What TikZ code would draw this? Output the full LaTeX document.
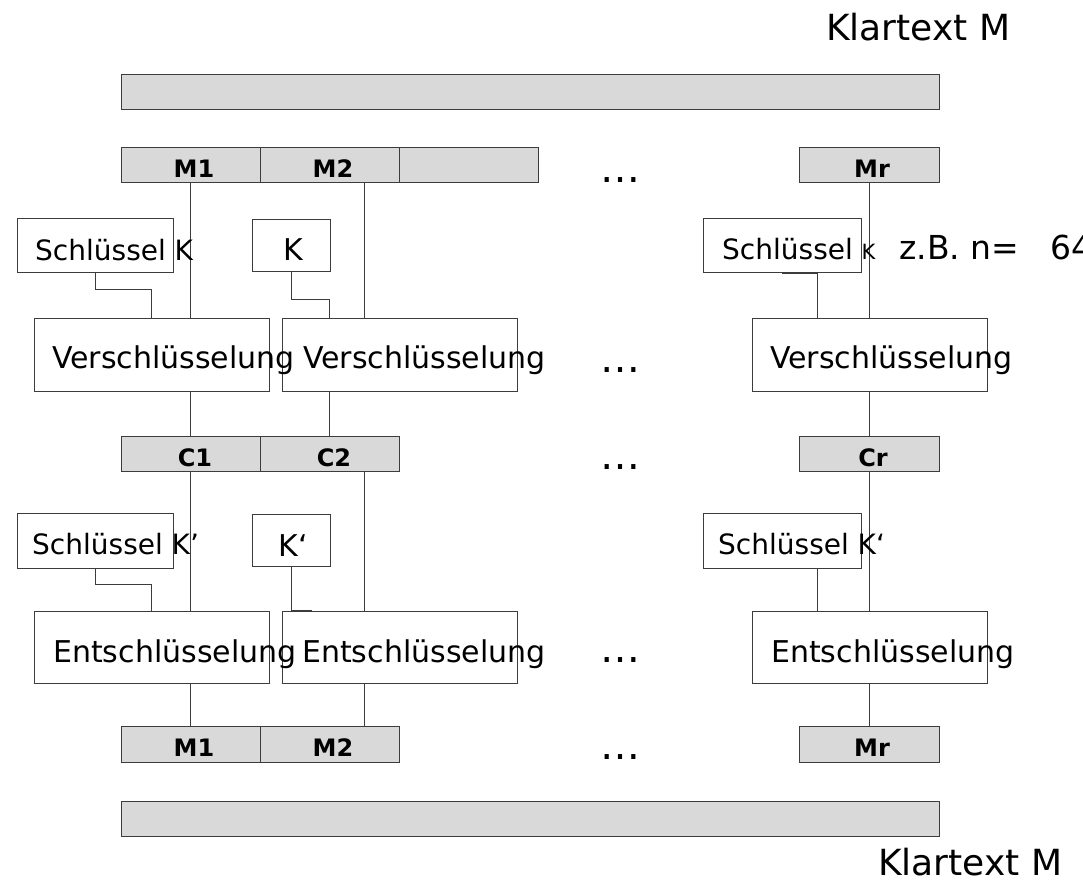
\documentclass[tikz,border=0pt]{standalone}
\usepackage{fontspec}
\setmainfont{DejaVu Sans}
\definecolor{cellgray}{HTML}{D9D9D9}
\definecolor{linec}{HTML}{3C3C3C}
\begin{document}
\begin{tikzpicture}[x=1pt,y=-1pt,
  cell/.style={draw=linec, fill=cellgray, line width=1pt, inner sep=0pt},
  whitebox/.style={draw=linec, fill=white, line width=1pt, inner sep=0pt},
  wire/.style={draw=linec, line width=1pt},
  lbl/.style={font=\fontsize{24}{24}\selectfont\bfseries, anchor=base, inner sep=0pt},
  big/.style={font=\fontsize{30}{30}\selectfont, anchor=base west, inner sep=0pt},
  keytxt/.style={font=\fontsize{28}{28}\selectfont, anchor=base west, inner sep=0pt},
  keyone/.style={font=\fontsize{30}{30}\selectfont, anchor=base, inner sep=0pt},
  dotstxt/.style={font=\fontsize{40}{40}\selectfont, anchor=base, inner sep=0pt},
  title/.style={font=\fontsize{36}{36}\selectfont, anchor=base west, inner sep=0pt}
]
\useasboundingbox (0,0) rectangle (1083,882);

% plaintext bars
\node[cell, minimum width=818pt, minimum height=35pt] (bartop) at (530,92.5) {};
\node[cell, minimum width=818pt, minimum height=35pt] (barbot) at (530,818.5) {};

% message blocks
\node[cell, minimum width=139pt, minimum height=35pt] (m1) at (190.5,165.5) {};
\node[cell, minimum width=139pt, minimum height=35pt] (m2) at (329.5,165.5) {};
\node[cell, minimum width=139pt, minimum height=35pt] (m3) at (468.5,165.5) {};
\node[cell, minimum width=140pt, minimum height=35pt] (mr) at (869,165.5) {};

% encryption keys
\node[whitebox, minimum width=156pt, minimum height=54pt] (sk1) at (95,246) {};
\node[whitebox, minimum width=78pt, minimum height=52pt] (k1) at (291,246) {};
\node[whitebox, minimum width=158pt, minimum height=54pt] (skr) at (782,246) {};

% encryption units
\node[whitebox, minimum width=235pt, minimum height=73pt] (v1) at (151.5,354.5) {};
\node[whitebox, minimum width=235pt, minimum height=73pt] (v2) at (399.5,354.5) {};
\node[whitebox, minimum width=235pt, minimum height=73pt] (vr) at (869.5,354.5) {};

% cipher blocks
\node[cell, minimum width=139pt, minimum height=35pt] (c1) at (190.5,453.5) {};
\node[cell, minimum width=139pt, minimum height=35pt] (c2) at (329.5,453.5) {};
\node[cell, minimum width=140pt, minimum height=35pt] (cr) at (869,453.5) {};

% decryption keys
\node[whitebox, minimum width=156pt, minimum height=55pt] (sk2) at (95,540.5) {};
\node[whitebox, minimum width=78pt, minimum height=52pt] (k2) at (291,540) {};
\node[whitebox, minimum width=158pt, minimum height=55pt] (skr2) at (782,540.5) {};

% decryption units
\node[whitebox, minimum width=235pt, minimum height=72pt] (e1) at (151.5,647) {};
\node[whitebox, minimum width=235pt, minimum height=72pt] (e2) at (399.5,647) {};
\node[whitebox, minimum width=235pt, minimum height=72pt] (er) at (869.5,647) {};

% recovered message blocks
\node[cell, minimum width=139pt, minimum height=36pt] (b1) at (190.5,744) {};
\node[cell, minimum width=139pt, minimum height=36pt] (b2) at (329.5,744) {};
\node[cell, minimum width=140pt, minimum height=36pt] (br) at (869,744) {};

% wires: message -> encryption
\draw[wire] (m1.south) -- (m1.south |- v1.north);
\draw[wire] ([xshift=34.5pt]m2.south) -- ([xshift=34.5pt]m2.south |- v2.north);
\draw[wire] (mr.south) -- (mr.south |- vr.north);
\draw[wire] (sk1.south) -- ++(0,16) -| ([xshift=118pt]v1.north west);
\draw[wire] (k1.south) -- ++(0,27) -| ([xshift=48pt]v2.north west);
\draw[wire] (skr.south) -- ([xshift=35pt]skr.south) -- ([xshift=35pt]skr.south |- vr.north);

% wires: encryption -> cipher
\draw[wire] ([xshift=16.5pt]c1.north |- v1.south) -- (c1.north |- v1.south) -- (c1.north);
\draw[wire] (c2.north |- v2.south) -- (c2.north);
\draw[wire] (cr.north |- vr.south) -- (cr.north);

% wires: cipher -> decryption
\draw[wire] (c1.south) -- (c1.south |- e1.north);
\draw[wire] ([xshift=34.5pt]c2.south) -- ([xshift=34.5pt]c2.south |- e2.north);
\draw[wire] (cr.south) -- (cr.south |- er.north);
\draw[wire] (sk2.south) -- ++(0,16) -| ([xshift=118pt]e1.north west);
\draw[wire] (k2.south) -- (k2.south |- e2.north) -- ++(21,0);
\draw[wire] ([xshift=35pt]skr2.south) -- ([xshift=35pt]skr2.south |- er.north);

% wires: decryption -> recovered blocks
\draw[wire] (b1.north |- e1.south) -- (b1.north);
\draw[wire] ([xshift=34.5pt]b2.north |- e2.south) -- ([xshift=34.5pt]b2.north);
\draw[wire] (br.north |- er.south) -- (br.north);

% titles
\node[title] (kt1) at (826,41) {Klartext M};
\node[title] (kt2) at (878,875) {Klartext M};

% block labels
\node[lbl] (lm1) at (194,178) {M1};
\node[lbl] (lm2) at (333,178) {M2};
\node[lbl] (lmr) at (872,178) {Mr};
\node[lbl] (lc1) at (195,466) {C1};
\node[lbl] (lc2) at (334,466) {C2};
\node[lbl] (lcr) at (873,466) {Cr};
\node[lbl] (lb1) at (194,756) {M1};
\node[lbl] (lb2) at (333,756) {M2};
\node[lbl] (lbr) at (872,756) {Mr};

% key texts
\node[keytxt] (tsk1) at (35,261) {Schlüssel K};
\node[keyone] (tk1) at (293,261) {K};
\node[keytxt] (tskr) at (722,260) {Schlüssel {\fontsize{21}{21}\selectfont K}};
\node[font=\fontsize{33}{33}\selectfont, anchor=base west, inner sep=0pt] (tn) at (899,260) {z.B. n=~~~64};
\node[keytxt] (tsk2) at (32,554) {Schlüssel K’};
\node[keyone] (tk2) at (293,556) {K‘};
\node[keytxt] (tskr2) at (718,554) {Schlüssel K‘};

% unit texts
\node[big] (tv1) at (52,368) {Verschlüsselung};
\node[big] (tv2) at (303,368) {Verschlüsselung};
\node[big] (tvr) at (770,368) {Verschlüsselung};
\node[big] (te1) at (53,662) {Entschlüsselung};
\node[big] (te2) at (302,662) {Entschlüsselung};
\node[big] (ter) at (771,662) {Entschlüsselung};

% ellipses
\node[dotstxt] (d1) at (620,183) {…};
\node[dotstxt] (d2) at (620,372) {…};
\node[dotstxt] (d3) at (620,469) {…};
\node[dotstxt] (d4) at (620,662) {…};
\node[dotstxt] (d5) at (620,759) {…};
\end{tikzpicture}
\end{document}
